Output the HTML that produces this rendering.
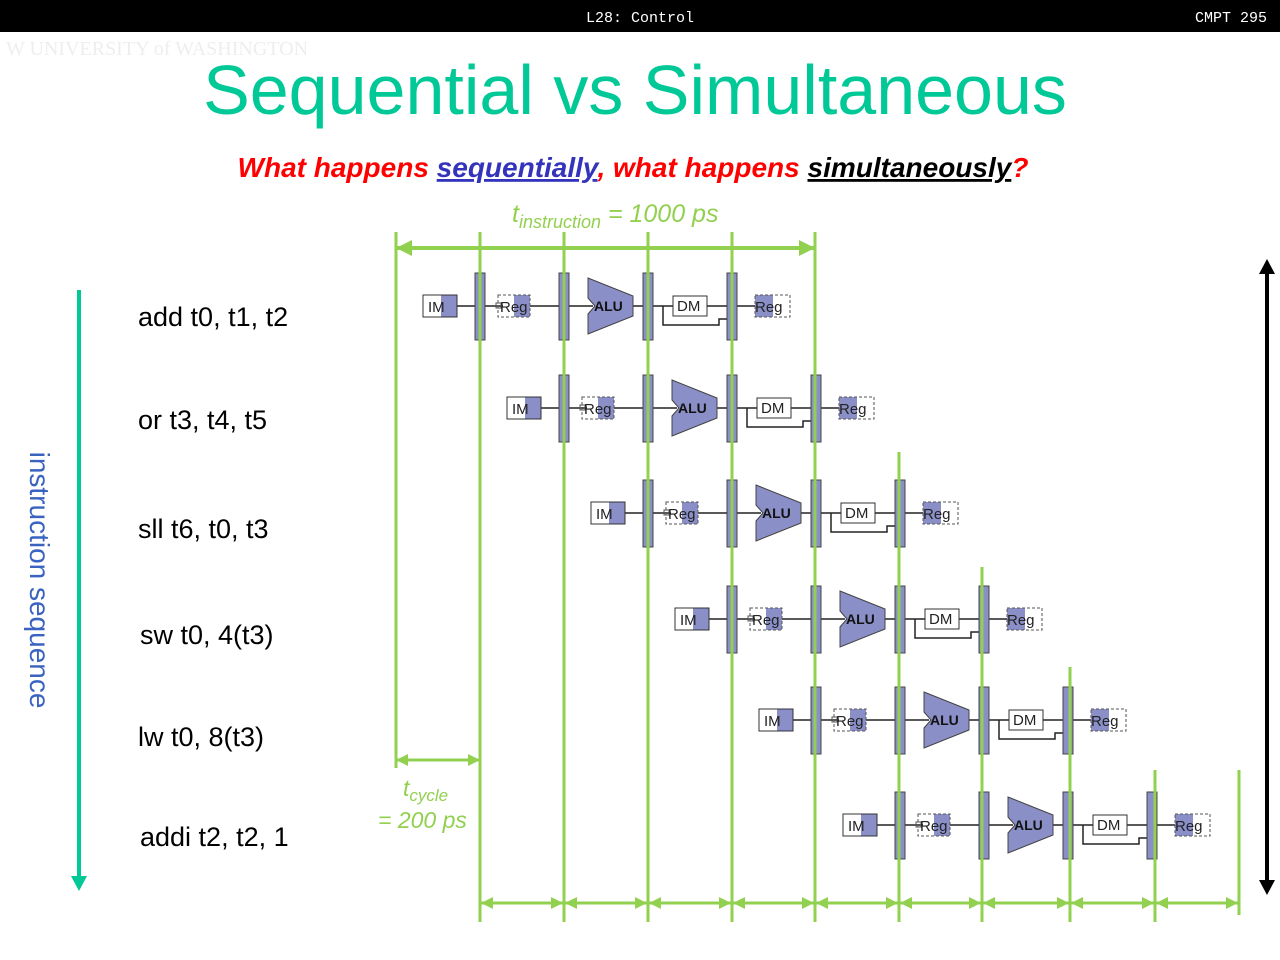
<!DOCTYPE html>
<html><head><meta charset="utf-8"><style>
html,body{margin:0;padding:0;background:#fff;}
svg{display:block;}
</style></head><body>
<svg width="1280" height="960" xmlns="http://www.w3.org/2000/svg" font-family="Liberation Sans, sans-serif">
<defs>
<g id="row">
  <line x1="34" y1="0" x2="52" y2="0" stroke="#222" stroke-width="1.5"/>
  <line x1="62" y1="0" x2="80" y2="0" stroke="#222" stroke-width="1.5"/>
  <line x1="107" y1="0" x2="136" y2="0" stroke="#222" stroke-width="1.5"/>
  <line x1="146" y1="0" x2="170" y2="0" stroke="#222" stroke-width="1.5"/>
  <line x1="210" y1="0" x2="220" y2="0" stroke="#222" stroke-width="1.5"/>
  <line x1="230" y1="0" x2="250" y2="0" stroke="#222" stroke-width="1.5"/>
  <line x1="284" y1="0" x2="304" y2="0" stroke="#222" stroke-width="1.5"/>
  <line x1="314" y1="0" x2="332" y2="0" stroke="#222" stroke-width="1.5"/>
  <polyline points="240,0 240,19 296,19 296,13 304,13" fill="none" stroke="#222" stroke-width="1.5"/>
  <!-- IM -->
  <rect x="0" y="-11" width="34" height="22" fill="#fff" stroke="#333"/>
  <rect x="18" y="-11" width="16" height="22" fill="#8a8fc8"/>
  <rect x="0" y="-11" width="34" height="22" fill="none" stroke="#333"/>
  <text x="5" y="6" font-size="15" fill="#222">IM</text>
  <!-- bars -->
  <rect x="52" y="-33" width="10" height="67" fill="#8a8fc8" stroke="#444"/>
  <rect x="136" y="-33" width="10" height="67" fill="#8a8fc8" stroke="#444"/>
  <rect x="220" y="-33" width="10" height="67" fill="#8a8fc8" stroke="#444"/>
  <rect x="304" y="-33" width="10" height="67" fill="#8a8fc8" stroke="#444"/>
  <!-- Reg read -->
  <rect x="91" y="-11" width="16" height="22" fill="#8a8fc8"/>
  <rect x="75" y="-11" width="32" height="22" fill="none" stroke="#555" stroke-dasharray="3,2"/>
  <rect x="73" y="-3" width="5" height="5" fill="none" stroke="#555"/>
  <text x="77" y="6" font-size="15" fill="#222">Reg</text>
  <!-- ALU -->
  <polygon points="165,-28 210,-10 210,10 165,28 165,8 172,0 165,-8" fill="#8a8fc8" stroke="#444"/>
  <text x="171" y="5" font-size="14" font-weight="bold" fill="#111">ALU</text>
  <!-- DM -->
  <rect x="250" y="-10" width="34" height="20" fill="#fff" stroke="#333"/>
  <text x="254" y="5" font-size="15" fill="#222">DM</text>
  <!-- Reg write -->
  <rect x="332" y="-11" width="18" height="22" fill="#8a8fc8"/>
  <rect x="332" y="-11" width="35" height="22" fill="none" stroke="#555" stroke-dasharray="3,2"/>
  <text x="332" y="6" font-size="15" fill="#222">Reg</text>
</g>
</defs>

<rect x="0" y="0" width="1280" height="32" fill="#000"/>
<text x="640" y="22" font-family="Liberation Mono, monospace" font-size="15" fill="#fff" text-anchor="middle">L28: Control</text>
<text x="1267" y="22" font-family="Liberation Mono, monospace" font-size="15" fill="#fff" text-anchor="end">CMPT 295</text>
<text x="6" y="55" font-family="Liberation Serif, serif" font-size="20" fill="#eee">W  UNIVERSITY of WASHINGTON</text>

<text x="635" y="114" font-size="70" fill="#00c896" text-anchor="middle">Sequential vs Simultaneous</text>
<text x="633" y="177" font-size="28" font-weight="bold" font-style="italic" text-anchor="middle"><tspan fill="#ff0000">What happens </tspan><tspan fill="#3333bb" text-decoration="underline">sequentially</tspan><tspan fill="#ff0000">, what happens </tspan><tspan fill="#000" text-decoration="underline">simultaneously</tspan><tspan fill="#ff0000">?</tspan></text>

<text x="512" y="222" font-size="25" font-style="italic" fill="#92d050">t<tspan font-size="18" dy="6">instruction</tspan><tspan dy="-6"> = 1000 ps</tspan></text>

<g font-size="27" fill="#000">
<text x="138" y="326">add t0, t1, t2</text>
<text x="138" y="429">or t3, t4, t5</text>
<text x="138" y="538">sll t6, t0, t3</text>
<text x="140" y="644">sw t0, 4(t3)</text>
<text x="138" y="746">lw t0, 8(t3)</text>
<text x="140" y="846">addi t2, t2, 1</text>
</g>

<line x1="79" y1="290" x2="79" y2="878" stroke="#00c896" stroke-width="4"/>
<polygon points="71,876 87,876 79,891" fill="#00c896"/>
<text transform="translate(30,580) rotate(90)" font-size="28" fill="#3a62c0" text-anchor="middle">instruction sequence</text>

<line x1="1267" y1="272" x2="1267" y2="882" stroke="#000" stroke-width="4"/>
<polygon points="1259,274 1275,274 1267,259" fill="#000"/>
<polygon points="1259,880 1275,880 1267,895" fill="#000"/>

<use href="#row" x="423" y="306"/>
<use href="#row" x="507" y="408"/>
<use href="#row" x="591" y="513"/>
<use href="#row" x="675" y="619"/>
<use href="#row" x="759" y="720"/>
<use href="#row" x="843" y="825"/>

<g stroke="#92d050" stroke-width="3" fill="none">
<line x1="396" y1="232" x2="396" y2="768"/>
<line x1="480" y1="232" x2="480" y2="922"/>
<line x1="564" y1="232" x2="564" y2="922"/>
<line x1="648" y1="232" x2="648" y2="922"/>
<line x1="732" y1="232" x2="732" y2="922"/>
<line x1="815" y1="232" x2="815" y2="922"/>
<line x1="899" y1="452" x2="899" y2="922"/>
<line x1="982" y1="567" x2="982" y2="922"/>
<line x1="1070" y1="667" x2="1070" y2="922"/>
<line x1="1155" y1="770" x2="1155" y2="922"/>
<line x1="1239" y1="770" x2="1239" y2="915"/>
<line x1="396" y1="248" x2="815" y2="248" stroke-width="4"/>
<line x1="396" y1="760" x2="480" y2="760"/>
<line x1="480" y1="903" x2="1239" y2="903"/>
</g>
<g fill="#92d050">
<polygon points="396,248 412,240 412,256"/>
<polygon points="815,248 799,240 799,256"/>
<polygon points="396,760 408,754 408,766"/>
<polygon points="480,760 468,754 468,766"/>
</g>
<g fill="#92d050">
<polygon points="481,903 493,897 493,909"/><polygon points="563,903 551,897 551,909"/>
<polygon points="565,903 577,897 577,909"/><polygon points="647,903 635,897 635,909"/>
<polygon points="649,903 661,897 661,909"/><polygon points="731,903 719,897 719,909"/>
<polygon points="733,903 745,897 745,909"/><polygon points="814,903 802,897 802,909"/>
<polygon points="816,903 828,897 828,909"/><polygon points="898,903 886,897 886,909"/>
<polygon points="900,903 912,897 912,909"/><polygon points="981,903 969,897 969,909"/>
<polygon points="983,903 995,897 995,909"/><polygon points="1069,903 1057,897 1057,909"/>
<polygon points="1071,903 1083,897 1083,909"/><polygon points="1154,903 1142,897 1142,909"/>
<polygon points="1156,903 1168,897 1168,909"/><polygon points="1238,903 1226,897 1226,909"/>
</g>

<text x="403" y="796" font-size="23" font-style="italic" fill="#92d050">t<tspan font-size="17" dy="5">cycle</tspan></text>
<text x="378" y="828" font-size="23" font-style="italic" fill="#92d050">= 200 ps</text>
</svg>
</body></html>
